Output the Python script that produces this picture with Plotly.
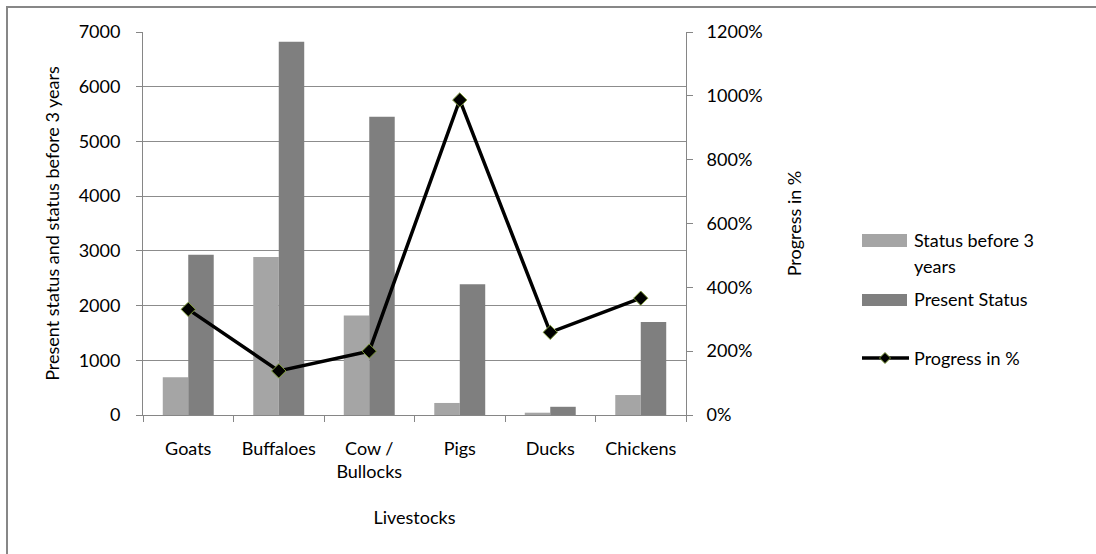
import plotly.graph_objects as go

# Livestock counts and progress
categories = ["Goats", "Buffaloes", "Cow /<br>Bullocks", "Pigs", "Ducks", "Chickens"]
status_before = [690, 2890, 1820, 220, 42, 365]
present_status = [2930, 6820, 5450, 2390, 150, 1700]
progress_pct = [331, 138, 200, 987, 259, 366]

left_ticks = [0, 1000, 2000, 3000, 4000, 5000, 6000, 7000]
right_ticks = [0, 200, 400, 600, 800, 1000, 1200]
right_labels = [f"{v}%" for v in right_ticks]

names = ["Status before 3<br>years", "Present Status", "Progress in %"]
colors = ["#A5A5A5", "#7F7F7F", "black"]

W, H = 1096, 554
L, R, T, B = 143, 410, 32, 139
pw, ph = W - L - R, H - T - B

FONT = "Lato"
FS = 18
axis_gray = "#868686"


def px(x):
    return (x - L) / pw


def py(y):
    return (T + ph - y) / ph


fig = go.Figure()
fig.add_trace(go.Bar(x=categories, y=status_before, name=names[0],
                     marker=dict(color=colors[0], line=dict(width=0))))
fig.add_trace(go.Bar(x=categories, y=present_status, name=names[1],
                     marker=dict(color=colors[1], line=dict(width=0))))
fig.add_trace(go.Scatter(
    x=categories, y=progress_pct, name=names[2], yaxis="y2",
    mode="lines+markers",
    line=dict(color="black", width=3.5),
    marker=dict(symbol="diamond", size=11, color="black",
                line=dict(color="#7E9A3A", width=1)),
))

shapes = []
# outer chart border (top and left edges visible)
shapes.append(dict(type="rect", xref="paper", yref="paper",
                   x0=px(7), x1=px(W + 20), y0=py(H + 20), y1=py(7),
                   line=dict(color="#878787", width=2), fillcolor="rgba(0,0,0,0)",
                   layer="below"))

# legend drawn by hand: swatches, line sample and labels
sw_x0, sw_x1, txt_x = 862, 907, 912
shapes.append(dict(type="rect", xref="paper", yref="paper",
                   x0=px(sw_x0), x1=px(sw_x1), y0=py(247), y1=py(234),
                   fillcolor=colors[0], line=dict(width=0)))
shapes.append(dict(type="rect", xref="paper", yref="paper",
                   x0=px(sw_x0), x1=px(sw_x1), y0=py(306), y1=py(294),
                   fillcolor=colors[1], line=dict(width=0)))
shapes.append(dict(type="line", xref="paper", yref="paper",
                   x0=px(sw_x0), x1=px(909), y0=py(358), y1=py(358),
                   line=dict(color="black", width=3.5)))
cx, cy, d = 885, 358, 5.5
shapes.append(dict(type="path", xref="paper", yref="paper",
                   path=(f"M {px(cx - d)} {py(cy)} L {px(cx)} {py(cy - d)} "
                         f"L {px(cx + d)} {py(cy)} L {px(cx)} {py(cy + d)} Z"),
                   fillcolor="black", line=dict(color="#7E9A3A", width=1)))

annotations = [
    dict(text="Status before 3", x=px(txt_x), y=py(240)),
    dict(text="years", x=px(txt_x), y=py(266)),
    dict(text="Present Status", x=px(txt_x), y=py(299)),
    dict(text="Progress in %", x=px(txt_x), y=py(358)),
]
for a in annotations:
    a.update(xref="paper", yref="paper", xanchor="left", yanchor="middle",
             showarrow=False, font=dict(family=FONT, size=FS, color="black"))

fig.update_layout(
    width=W, height=H,
    margin=dict(l=L, r=R, t=T, b=B, autoexpand=False),
    paper_bgcolor="white", plot_bgcolor="white",
    font=dict(family=FONT, size=FS, color="black"),
    barmode="group", bargap=0.437, bargroupgap=0,
    showlegend=False,
    shapes=shapes, annotations=annotations,
    xaxis=dict(
        type="category", showline=True, linecolor=axis_gray, linewidth=1,
        ticks="outside", tickson="boundaries", ticklen=6, tickcolor=axis_gray,
        title=dict(text="Livestocks", standoff=30, font=dict(size=FS)),
        automargin=False, tickfont=dict(size=FS), ticklabelstandoff=17,
    ),
    yaxis=dict(
        range=[0, 7000], tickvals=left_ticks, showgrid=True, gridcolor="#8C8C8C", gridwidth=1,
        showline=True, linecolor=axis_gray, linewidth=1, ticks="outside", ticklen=6,
        tickcolor=axis_gray, zeroline=False,
        title=dict(text="Present status and status before 3 years", standoff=14, font=dict(size=FS)),
        automargin=False, tickfont=dict(size=FS), ticklabelstandoff=12,
    ),
    yaxis2=dict(
        range=[0, 1200], tickvals=right_ticks, ticktext=right_labels,
        overlaying="y", side="right",
        showgrid=False, showline=True, linecolor=axis_gray, linewidth=1,
        ticks="outside", ticklen=6, tickcolor=axis_gray, zeroline=False,
        title=dict(text="Progress in %", standoff=26, font=dict(size=FS)),
        automargin=False, tickfont=dict(size=FS), ticklabelstandoff=10,
    ),
)

fig.write_html("out.html")
